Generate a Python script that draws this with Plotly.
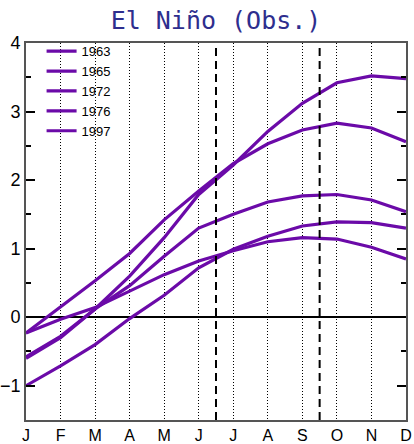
import plotly.graph_objects as go


# ======================================================
# Data
# ======================================================

months = ["J", "F", "M", "A", "M", "J", "J", "A", "S", "O", "N", "D"]

years = ["1963", "1965", "1972", "1976", "1997"]

nino_1963 = [-0.23, -0.03, 0.14, 0.38, 0.62, 0.82, 0.97, 1.10, 1.16, 1.14, 1.02, 0.85]
nino_1965 = [-0.58, -0.28, 0.12, 0.46, 0.89, 1.30, 1.50, 1.68, 1.77, 1.79, 1.71, 1.54]
nino_1972 = [-0.23, 0.15, 0.53, 0.93, 1.42, 1.84, 2.24, 2.53, 2.73, 2.83, 2.76, 2.56]
nino_1976 = [-1.00, -0.71, -0.40, -0.02, 0.32, 0.72, 0.99, 1.18, 1.33, 1.39, 1.38, 1.30]
nino_1997 = [-0.60, -0.30, 0.12, 0.60, 1.16, 1.79, 2.22, 2.71, 3.12, 3.42, 3.52, 3.48]

series = [nino_1963, nino_1965, nino_1972, nino_1976, nino_1997]

season_breaks = [5.5, 8.5]


# ======================================================
# Figure
# ======================================================

LINE_COLOR = "#6b0aa8"

fig = go.Figure()

for year, values in zip(years, series):
    fig.add_trace(
        go.Scatter(
            x=list(range(len(months))),
            y=values,
            mode="lines",
            name=year,
            line=dict(color=LINE_COLOR, width=3.2)
        )
    )

for xb in season_breaks:
    fig.add_vline(
        x=xb,
        line=dict(color="black", width=2, dash="8px,5px")
    )

fig.update_layout(
    width=414,
    height=444,
    margin=dict(l=26, r=8, t=43, b=24),
    plot_bgcolor="white",
    paper_bgcolor="white",
    title=dict(
        text="El Niño (Obs.)",
        x=0.5,
        xref="paper",
        xanchor="center",
        y=1 - 20 / 444,
        yref="container",
        yanchor="middle",
        font=dict(family="DejaVu Sans Mono", size=25, color="#2e2e8e")
    ),
    font=dict(family="Liberation Sans", color="black"),
    showlegend=True,
    legend=dict(
        x=0.041,
        y=1.018,
        xanchor="left",
        yanchor="top",
        bgcolor="rgba(0,0,0,0)",
        font=dict(family="Liberation Sans", size=13, color="black")
    )
)

fig.update_xaxes(
    range=[0, 11],
    tickmode="array",
    tickvals=list(range(len(months))),
    ticktext=months,
    ticks="",
    tickfont=dict(size=16),
    showgrid=True,
    gridcolor="black",
    gridwidth=1,
    griddash="1px,2px",
    zeroline=False,
    showline=True,
    linecolor="#555555",
    linewidth=2,
    mirror=True,
    automargin=False
)

fig.update_yaxes(
    range=[-1.5, 4],
    dtick=1,
    ticks="inside",
    ticklen=9,
    tickwidth=1.5,
    tickcolor="black",
    tickfont=dict(size=18),
    minor=dict(dtick=0.5, ticks="inside", ticklen=5, tickwidth=1.5, tickcolor="black"),
    showgrid=False,
    zeroline=True,
    zerolinecolor="black",
    zerolinewidth=2,
    showline=True,
    linecolor="#555555",
    linewidth=2,
    mirror="allticks",
    automargin=False
)

# the page's default body margin would shift the figure by 8px
fig.write_html(
    "out.html",
    config={"displayModeBar": False},
    post_script="document.body.style.margin='0';document.body.style.overflow='hidden';"
)
